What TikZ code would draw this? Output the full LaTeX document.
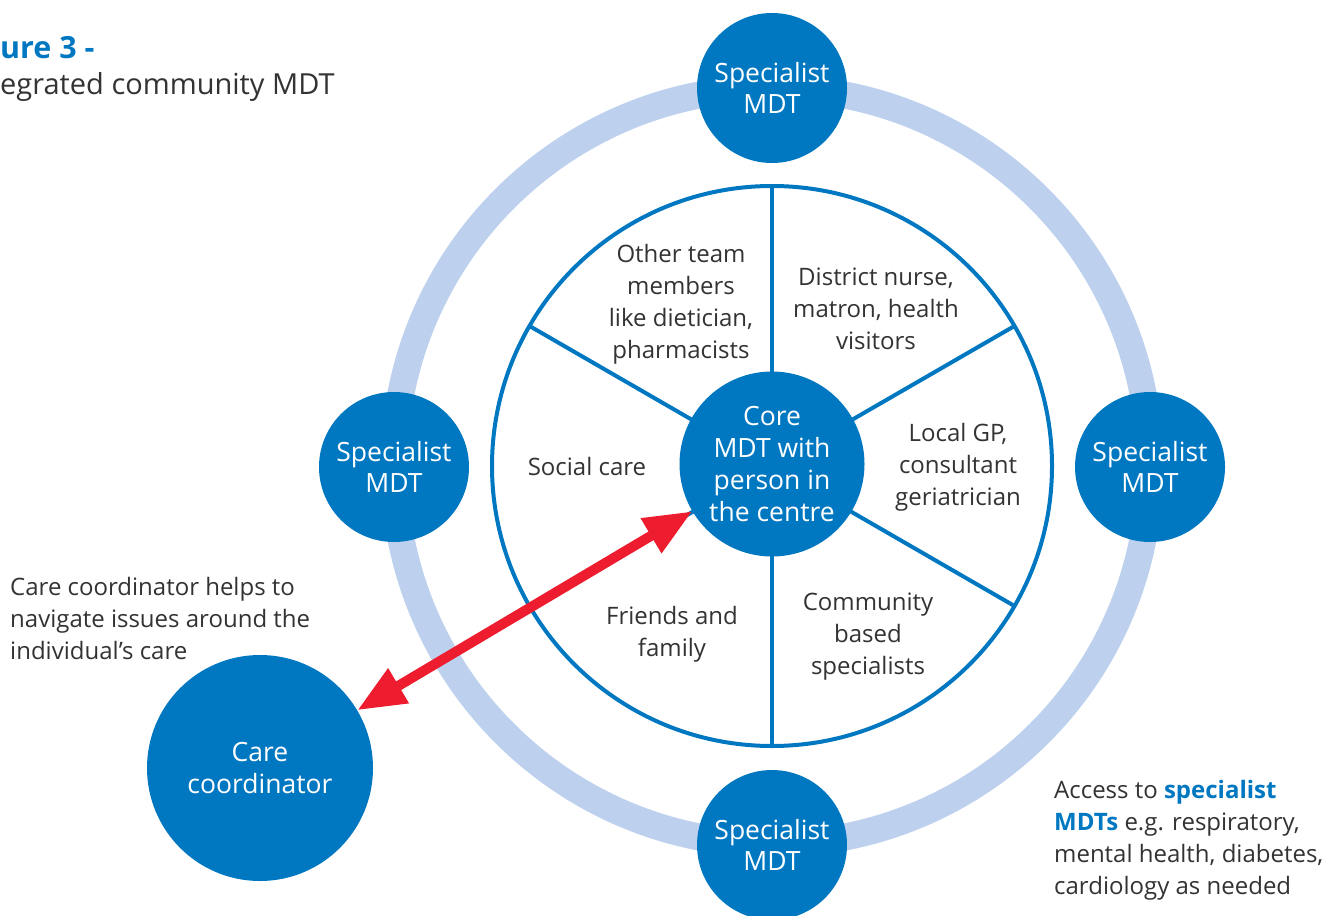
\documentclass[tikz,border=0pt]{standalone}
\usepackage{fontspec}
\setmainfont{Open Sans}
\usetikzlibrary{arrows.meta}
\definecolor{nhsblue}{HTML}{0078C1}
\definecolor{ringblue}{HTML}{BDD1EE}
\definecolor{txt}{HTML}{333333}
\definecolor{arrred}{HTML}{ED1C2E}
\begin{document}
\begin{tikzpicture}[x=1pt,y=-1pt,
  lbl/.style={font=\fontsize{24}{32}\selectfont, text=txt, align=center, inner sep=0pt},
  bluecirc/.style={circle, fill=nhsblue, inner sep=0pt, font=\fontsize{26.5}{31.5}\selectfont, text=white, align=center},
  spec/.style={bluecirc, minimum size=150pt},
  spoke/.style={nhsblue, line width=4pt},
  redarrow/.style={arrred, line width=10pt, {Triangle[length=48pt,width=38pt]}-{Triangle[length=48pt,width=38pt]}}
]
\useasboundingbox (0,0) rectangle (1329,915);
\fill[white] (0,0) rectangle (1329,915);
\coordinate (O) at (772,466);
% outer ring
\draw[ringblue, line width=27pt] (O) circle[radius=378];
% inner wheel
\draw[spoke, fill=white] (O) circle[radius=280];
\foreach \a in {90,150,210,270,330,30}
  \draw[spoke] ([shift={(\a:90)}]O) -- ([shift={(\a:280)}]O);
% core
\node[bluecirc, minimum size=185pt, font=\fontsize{26.5}{32}\selectfont] (core) at (772,464) {Core\\MDT with\\person in\\the centre};
% specialist MDTs
\node[spec] (spT) at (772,88) {Specialist\\MDT};
\node[spec] (spL) at (394,467) {Specialist\\MDT};
\node[spec] (spR) at (1150,467) {Specialist\\MDT};
\node[spec] (spB) at (772,845) {Specialist\\MDT};
% care coordinator
\node[bluecirc, minimum size=226pt] (cc) at (260,768) {Care\\coordinator};
% arrow
\draw[redarrow] (cc) -- (core);
% sector labels
\node[lbl] (t1) at (681,304) {Other team\\members\\like dietician,\\pharmacists};
\node[lbl] (t2) at (876,309) {District nurse,\\matron, health\\visitors};
\node[lbl] (t3) at (958,467) {Local GP,\\consultant\\geriatrician};
\node[lbl] (t4) at (868,637) {Community\\based\\specialists};
\node[lbl] (t5) at (672,634) {Friends and\\family};
\node[lbl] (t6) at (587,466) {Social care};
% side texts
\node[lbl, align=left, anchor=west] (cctxt) at (10,618) {Care coordinator helps to\\navigate issues around the\\individual’s care};
\node[lbl, align=left, anchor=west] (acc) at (1054,840) {Access to \textcolor{nhsblue}{\bfseries specialist}\\\textcolor{nhsblue}{\bfseries MDTs} e.g. respiratory,\\mental health, diabetes,\\cardiology as needed};
% title
\node[anchor=west, inner sep=0pt, font=\fontsize{30.5}{32}\selectfont\bfseries, text=nhsblue] (title1) at (0,48) {ure 3 -};
\node[anchor=west, inner sep=0pt, font=\fontsize{29}{32}\selectfont, text=txt] (title2) at (0,87) {egrated community MDT};
\end{tikzpicture}
\end{document}
